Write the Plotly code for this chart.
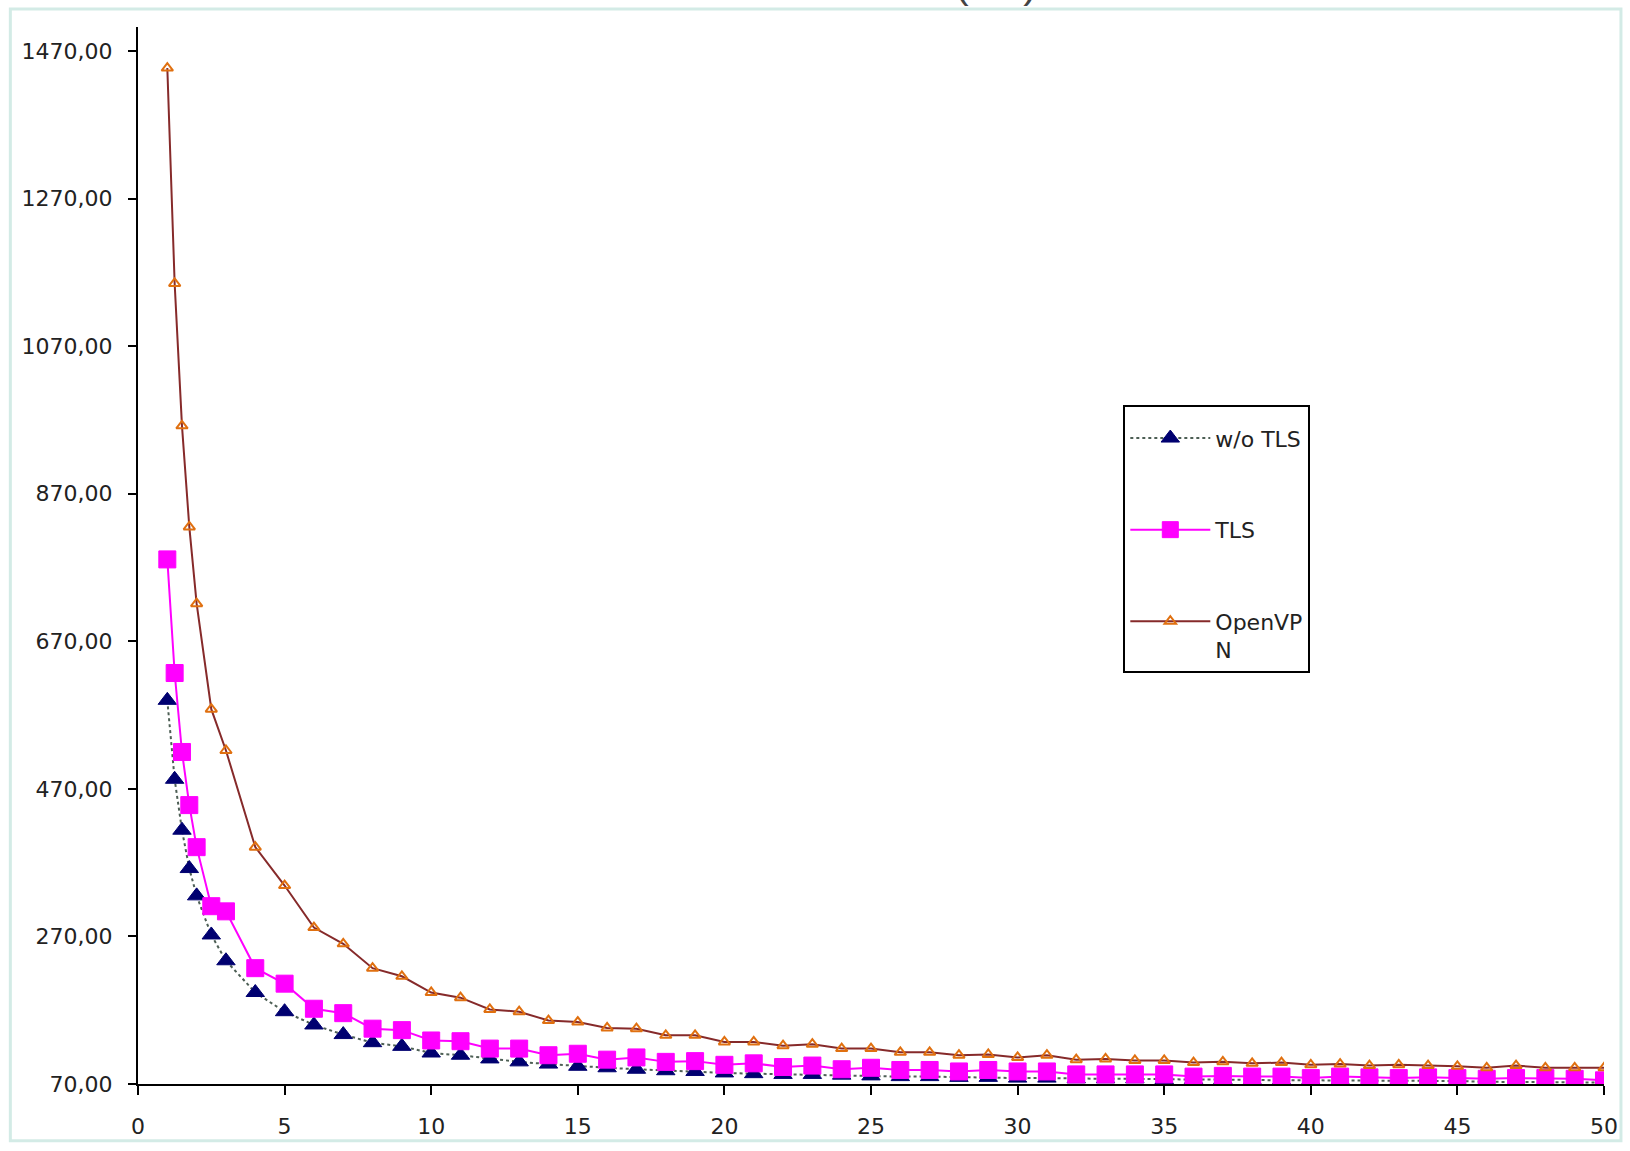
import plotly.graph_objects as go

# ---- data ----
x_vals = [1, 1.25, 1.5, 1.75, 2, 2.5, 3, 4, 5, 6, 7, 8, 9, 10, 11, 12, 13, 14, 15, 16,
          17, 18, 19, 20, 21, 22, 23, 24, 25, 26, 27, 28, 29, 30, 31, 32, 33, 34, 35,
          36, 37, 38, 39, 40, 41, 42, 43, 44, 45, 46, 47, 48, 49, 50]

wo_tls = [590, 483, 414, 362, 325, 272, 237, 194, 168, 150, 137, 126, 121, 112, 109, 104,
          100, 97, 94, 92, 90, 88, 87, 85, 84, 83, 83, 82, 81, 80, 80, 79, 79, 78, 78, 77,
          77, 77, 76, 76, 76, 75, 75, 75, 75, 74, 74, 74, 74, 73, 73, 73, 73, 72]

tls = [781, 627, 520, 448, 391, 311, 304, 227, 206, 172, 166, 145, 143, 129, 128, 118,
       118, 109, 111, 103, 106, 100, 101, 96, 98, 93, 95, 90, 92, 89, 89, 87, 89, 87, 87,
       83, 83, 83, 83, 80, 81, 80, 80, 78, 80, 79, 78, 79, 78, 77, 78, 78, 77, 75]

openvpn = [1447, 1155, 962, 825, 721, 578, 522, 391, 339, 282, 260, 227, 216, 194, 187,
           171, 168, 156, 154, 146, 145, 136, 136, 127, 127, 122, 124, 118, 118, 113, 113,
           109, 110, 106, 109, 103, 104, 102, 102, 99, 100, 98, 99, 96, 97, 95, 96, 95, 94,
           92, 95, 92, 92, 92]

series_names = ["w/o TLS", "TLS", "OpenVP<br>N"]

y_tick_vals = [70, 270, 470, 670, 870, 1070, 1270, 1470]
y_tick_text = ["70,00", "270,00", "470,00", "670,00", "870,00", "1070,00", "1270,00", "1470,00"]
x_tick_vals = [0, 5, 10, 15, 20, 25, 30, 35, 40, 45, 50]

FONT = "DejaVu Sans"

fig = go.Figure()

fig.add_trace(go.Scatter(
    x=x_vals, y=wo_tls, name=series_names[0], mode="lines+markers",
    legendgroup="a",
    line=dict(color="#4d5f55", width=2, dash="dot"),
    marker=dict(symbol="triangle-up", size=16, color="#000070",
                line=dict(color="#000070", width=1)),
))
fig.add_trace(go.Scatter(
    x=x_vals, y=tls, name=series_names[1], mode="lines+markers",
    legendgroup="b",
    line=dict(color="#ff00ff", width=2),
    marker=dict(symbol="square", size=17, color="#ff00ff",
                line=dict(color="#ff00ff", width=1)),
))
fig.add_trace(go.Scatter(
    x=x_vals, y=openvpn, name=series_names[2], mode="lines+markers",
    legendgroup="c",
    line=dict(color="#862a2a", width=2),
    marker=dict(symbol="triangle-up-open", size=10, color="#e07010",
                line=dict(color="#e07010", width=2)),
))

fig.update_layout(
    width=1630, height=1151,
    margin=dict(l=138, r=22, t=27, b=61),
    paper_bgcolor="white", plot_bgcolor="white",
    font=dict(family=FONT, size=22, color="#222222"),
    showlegend=True,
    legend=dict(
        x=(1126 - 138) / 1470, y=(1090 - 407) / 1063, xanchor="left", yanchor="top",
        bgcolor="white", bordercolor="black", borderwidth=2,
        font=dict(family=FONT, size=22, color="#222222"),
        tracegroupgap=60, itemwidth=80, valign="top",
        title=dict(text=" ", font=dict(size=8)),
    ),
    xaxis=dict(
        range=[0, 50], tickvals=x_tick_vals,
        showline=True, linecolor="black", linewidth=2,
        ticks="outside", ticklen=9, tickwidth=2, tickcolor="black",
        showgrid=False, zeroline=False, ticklabelstandoff=13,
    ),
    yaxis=dict(
        range=[70, 1502.6], tickvals=y_tick_vals, ticktext=y_tick_text,
        showline=True, linecolor="black", linewidth=2,
        ticks="outside", ticklen=8, tickwidth=2, tickcolor="black",
        showgrid=False, zeroline=False, ticklabelstandoff=11,
    ),
    shapes=[dict(
        type="rect", xref="paper", yref="paper",
        x0=(10 - 138) / 1470, x1=(1625 - 138) / 1470,
        y0=(1090 - 1147) / 1063, y1=(1090 - 9) / 1063,
        line=dict(color="#d3ebe6", width=3), layer="below",
    )],
    annotations=[dict(
        text="(ms)", xref="paper", yref="paper",
        x=(998 - 138) / 1470, y=(1090 - 9) / 1063,
        xanchor="center", yanchor="bottom", showarrow=False,
        font=dict(family="Liberation Sans", size=41, color="#444444"),
    )],
)

fig.write_html("out.html")
